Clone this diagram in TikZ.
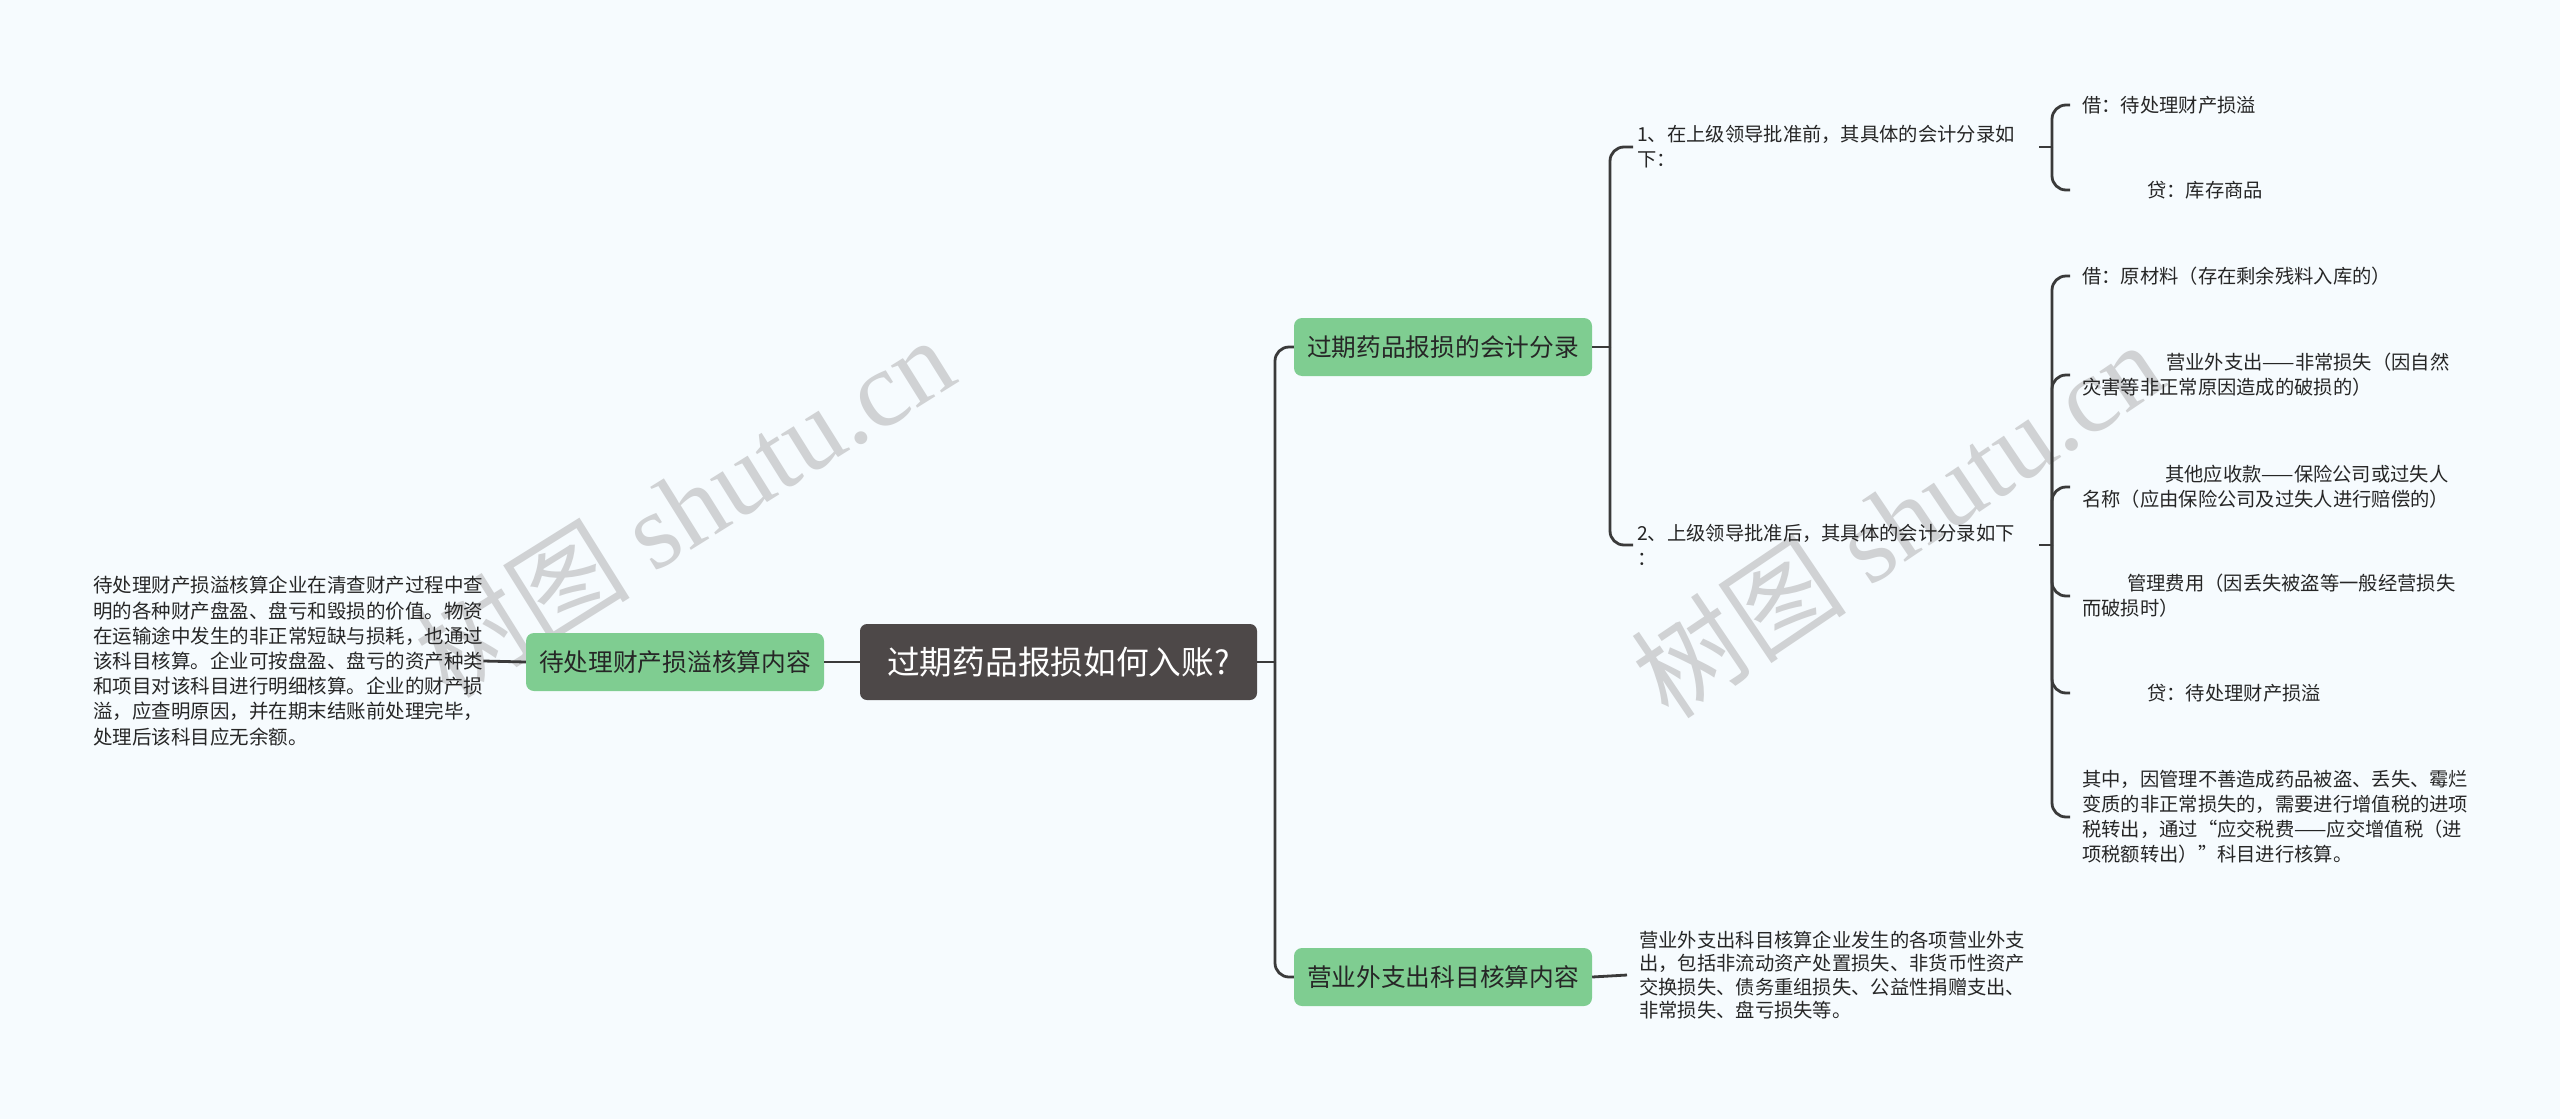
\documentclass[tikz,border=0pt]{standalone}
\usepackage{fontspec}
\setmainfont{Noto Sans CJK SC}
\newfontfamily\wmlat{Liberation Serif}
\definecolor{bgc}{HTML}{F6FBFE}
\definecolor{rootc}{HTML}{4D4848}
\definecolor{greenc}{HTML}{7FCD91}
\definecolor{linec}{HTML}{3A3A3A}
\definecolor{textc}{HTML}{262626}
\definecolor{wmc}{HTML}{D0D2D4}
\begin{document}
\begin{tikzpicture}[x=1pt,y=-1pt,
  conn/.style={draw=linec, line width=2.8pt, rounded corners=14pt},
  rootbox/.style={fill=rootc, rounded corners=7pt, minimum width=397pt, minimum height=76pt, inner sep=0pt, text=white, font=\fontsize{32.7}{36}\selectfont},
  subbox/.style={fill=greenc, rounded corners=8pt, minimum width=298pt, minimum height=58pt, inner sep=0pt, text=textc, font=\fontsize{24.7}{28}\selectfont},
  leaf/.style={anchor=west, align=left, inner xsep=12pt, inner ysep=1pt, text=textc, font=\fontsize{19.3}{25}\selectfont},
  wm/.style={text=wmc, font=\fontsize{108}{110}\selectfont, inner sep=0pt}
]
\useasboundingbox (0,0) rectangle (2560,1119);
\fill[bgc] (0,0) rectangle (2560,1119);

% watermarks
\node[wm, rotate=32] (wm1) at (684,506) {树图 {\wmlat shutu.cn}};
\node[wm, rotate=34] (wm2) at (1897,519) {树图 {\wmlat shutu.cn}};

% main nodes
\node[rootbox] (root) at (1058.5,662) {过期药品报损如何入账?};
\node[subbox] (left) at (675,662) {待处理财产损溢核算内容};
\node[subbox] (n1) at (1443,347) {过期药品报损的会计分录};
\node[subbox] (n2) at (1443,977) {营业外支出科目核算内容};

% left text
\node[leaf, inner xsep=0pt, font=\fontsize{19.5}{25.2}\selectfont] (ltext) at (93,661) {待处理财产损溢核算企业在清查财产过程中查\\明的各种财产盘盈、盘亏和毁损的价值。物资\\在运输途中发生的非正常短缺与损耗，也通过\\该科目核算。企业可按盘盈、盘亏的资产种类\\和项目对该科目进行明细核算。企业的财产损\\溢，应查明原因，并在期末结账前处理完毕，\\处理后该科目应无余额。};

% level 2 texts
\node[leaf, inner xsep=4pt, text width=398pt] (c1) at (1633,147) {1、在上级领导批准前，其具体的会计分录如\\下：};
\node[leaf, inner xsep=4pt, text width=398pt] (c2) at (1633,545) {2、上级领导批准后，其具体的会计分录如下\\：};
\node[leaf, font=\fontsize{19.3}{23.5}\selectfont] (c3) at (1627,975) {营业外支出科目核算企业发生的各项营业外支\\出，包括非流动资产处置损失、非货币性资产\\交换损失、债务重组损失、公益性捐赠支出、\\非常损失、盘亏损失等。};

% leaves
\node[leaf] (a1) at (2070,105) {借：待处理财产损溢};
\node[leaf] (a2) at (2070,190) {\hspace*{65pt}贷：库存商品};
\node[leaf] (b1) at (2070,276) {借：原材料（存在剩余残料入库的）};
\node[leaf] (b2) at (2070,375) {\hspace*{84pt}营业外支出——非常损失（因自然\\灾害等非正常原因造成的破损的）};
\node[leaf] (b3) at (2070,487) {\hspace*{83pt}其他应收款——保险公司或过失人\\名称（应由保险公司及过失人进行赔偿的）};
\node[leaf] (b4) at (2070,596) {\hspace*{45pt}管理费用（因丢失被盗等一般经营损失\\而破损时）};
\node[leaf] (b5) at (2070,693) {\hspace*{65pt}贷：待处理财产损溢};
\node[leaf] (b6) at (2070,817) {其中，因管理不善造成药品被盗、丢失、霉烂\\变质的非正常损失的，需要进行增值税的进项\\税转出，通过“应交税费——应交增值税（进\\项税额转出）”科目进行核算。};

% junctions
\coordinate (j0) at (1275,662);
\coordinate (j1) at (1610,347);
\coordinate (j2) at (2052,147);
\coordinate (j3) at (2052,545);

% connectors
\draw[conn] (root.west) -- (left.west -| left.east);
\draw[conn] (left.west) -- (ltext.east);
\draw[conn] (root.east) -- (j0);
\draw[conn] (j0) |- (n1.west);
\draw[conn] (j0) |- (n2.west);
\draw[conn] (n1.east) -- (j1);
\draw[conn] (j1) |- (c1.west);
\draw[conn] (j1) |- (c2.west);
\draw[conn] (n2.east) -- (c3.west);
\draw[conn] (c1.east) -- (j2);
\draw[conn] (j2) |- (a1.west);
\draw[conn] (j2) |- (a2.west);
\draw[conn] (c2.east) -- (j3);
\draw[conn] (j3) |- (b1.west);
\draw[conn] (j3) |- (b2.west);
\draw[conn] (j3) |- (b3.west);
\draw[conn] (j3) |- (b4.west);
\draw[conn] (j3) |- (b5.west);
\draw[conn] (j3) |- (b6.west);
\end{tikzpicture}
\end{document}
